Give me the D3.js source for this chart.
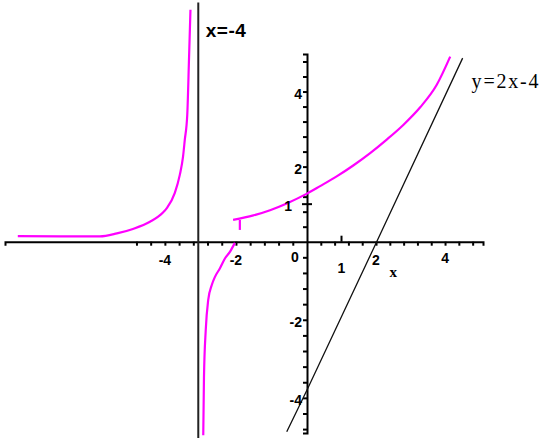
<!DOCTYPE html>
<html>
<head>
<meta charset="utf-8">
<script src="https://cdn.jsdelivr.net/npm/d3@7"></script>
<style>
	body { margin: 0; background: #fff; }
	#chart { width: 542px; height: 441px; }
</style>
</head>
<body>
<div id="chart"></div>
<script>
// curve pieces, [x, y] in graph units
const leftBranch = [
	[-8.14, 0.15], [-5.83, 0.14], [-5.35, 0.22], [-4.9, 0.34], [-4.42, 0.53],
	[-4.06, 0.77], [-3.94, 0.9], [-3.72, 1.3], [-3.58, 1.78], [-3.49, 2.26],
	[-3.44, 2.71], [-3.37, 3.38], [-3.32, 4.9], [-3.28, 6.18]
];
const lowerBranch = [
	[-2.92, -4.96], [-2.9, -3.49], [-2.85, -2.26], [-2.78, -1.49], [-2.68, -1.11],
	[-2.59, -0.9], [-2.45, -0.68], [-2.31, -0.43], [-2.17, -0.26], [-2.03, -0.03]
];
const rightBranch = [
	[-2.08, 0.58], [-1.51, 0.7], [-1.04, 0.84], [-0.57, 1.02], [0, 1.28],
	[0.38, 1.48], [0.86, 1.74], [1.34, 2.03], [1.83, 2.36], [2.31, 2.72],
	[2.79, 3.11], [3.28, 3.58], [3.76, 4.18], [4.15, 4.93]
];
const holeMark = [[-1.89, 0.58]];
const asymptote = [[-3.06, -5.03], [-3.06, 6.37]];
const slantLine = [[-0.57, -4.87], [0, -3.8], [2.02, 0], [4.51, 4.89]];

const xTickLabels = ["-4", "-2", "0", "1", "2", "4"];
const xTickValues = [-4, -2, 0, 1, 2, 4];
const yTickLabels = ["4", "2", "1", "-2", "-4"];
const yTickValues = [4, 2, 1, -2, -4];
const notes = [
	{ text: "x=-4", x: -2.85, y: 5.46 },
	{ text: "y=2x-4", x: 4.77, y: 4.1 }
];

const w = 542;
const h = 441;

const svg = d3
	.select("#chart")
	.append("svg")
	.attr("width", w)
	.attr("height", h);

// the plot is stretched a little differently on each side of the origin
const xScale = d3.scaleLinear().domain([-8.5, 0, 5.1]).range([5, 307, 483]);
const yScale = d3.scaleLinear().domain([-4.9, 0, 5]).range([433, 241.7, 54]);

const minorTicks = d3.range(-12, 13).filter((i) => i !== 0).map((i) => i * 0.4);

// x axis
const xAxisG = svg
	.append("g")
	.attr("transform", `translate(0, ${yScale(0)})`)
	.call(d3.axisBottom(xScale).tickValues(minorTicks).tickSize(4).tickFormat(""));
xAxisG.select(".domain").attr("stroke-width", 2);
xAxisG.selectAll(".tick line").attr("stroke-width", 2);

// y axis
const yAxisG = svg
	.append("g")
	.attr("transform", `translate(${xScale(0)}, 0)`)
	.call(d3.axisLeft(yScale).tickValues(minorTicks).tickSize(4).tickFormat(""));
yAxisG.select(".domain").attr("stroke-width", 2);
yAxisG.selectAll(".tick line").attr("stroke-width", 2);

// hand-added marks at 1
svg.append("line")
	.attr("x1", xScale(1)).attr("x2", xScale(1))
	.attr("y1", yScale(0) - 6).attr("y2", yScale(0))
	.attr("stroke", "#000").attr("stroke-width", 2);
svg.append("line")
	.attr("x1", xScale(0) - 5).attr("x2", xScale(0) + 5)
	.attr("y1", yScale(1)).attr("y2", yScale(1))
	.attr("stroke", "#000").attr("stroke-width", 2);

const lineGen = d3.line().x((d) => xScale(d[0])).y((d) => yScale(d[1]));
const curveGen = d3
	.line()
	.x((d) => xScale(d[0]))
	.y((d) => yScale(d[1]))
	.curve(d3.curveMonotoneX);

svg.append("path")
	.attr("d", lineGen(asymptote))
	.attr("fill", "none")
	.attr("stroke", "#222")
	.attr("stroke-width", 2);

svg.append("path")
	.attr("d", lineGen(slantLine))
	.attr("fill", "none")
	.attr("stroke", "#111")
	.attr("stroke-width", 1.3);

[leftBranch, lowerBranch, rightBranch].forEach((branch) => {
	svg.append("path")
		.attr("d", curveGen(branch))
		.attr("fill", "none")
		.attr("stroke", "#ff00ff")
		.attr("stroke-width", 2.2);
});

svg.selectAll(".hole")
	.data(holeMark)
	.enter()
	.append("line")
	.attr("x1", (d) => xScale(d[0]))
	.attr("x2", (d) => xScale(d[0]))
	.attr("y1", (d) => yScale(d[1]))
	.attr("y2", (d) => yScale(d[1]) + 10)
	.attr("stroke", "#ff00ff")
	.attr("stroke-width", 2.2);

// tick labels
const xLabelShift = { "0": [-12, 20], "1": [0, 31], "4": [0, 21] };
svg.selectAll(".xlab")
	.data(xTickValues)
	.enter()
	.append("text")
	.attr("x", (d, i) => xScale(d) + (xLabelShift[xTickLabels[i]] || [0, 23])[0])
	.attr("y", (d, i) => yScale(0) + (xLabelShift[xTickLabels[i]] || [0, 23])[1])
	.attr("text-anchor", "middle")
	.attr("font-family", "Liberation Sans")
	.attr("font-weight", "bold")
	.attr("font-size", 14)
	.text((d, i) => xTickLabels[i]);

svg.append("text")
	.attr("x", xScale(2.5))
	.attr("y", yScale(0) + 35)
	.attr("text-anchor", "middle")
	.attr("font-family", "Liberation Serif")
	.attr("font-weight", "bold")
	.attr("font-size", 15)
	.text("x");

svg.selectAll(".ylab")
	.data(yTickValues)
	.enter()
	.append("text")
	.attr("x", (d) => xScale(0) - (d === 1 ? 15 : 5))
	.attr("y", (d) => yScale(d) + 7)
	.attr("text-anchor", "end")
	.attr("font-family", "Liberation Sans")
	.attr("font-weight", "bold")
	.attr("font-size", 14)
	.text((d, i) => yTickLabels[i]);

// curve names
svg.selectAll(".note")
	.data(notes)
	.enter()
	.append("text")
	.attr("x", (d) => xScale(d.x))
	.attr("y", (d) => yScale(d.y))
	.attr("font-family", (d, i) => (i === 0 ? "Liberation Sans" : "Liberation Serif"))
	.attr("font-weight", (d, i) => (i === 0 ? "bold" : "normal"))
	.attr("font-size", (d, i) => (i === 0 ? 19 : 20))
	.attr("letter-spacing", (d, i) => (i === 0 ? 0.5 : 1.8))
	.text((d) => d.text);
</script>
</body>
</html>
